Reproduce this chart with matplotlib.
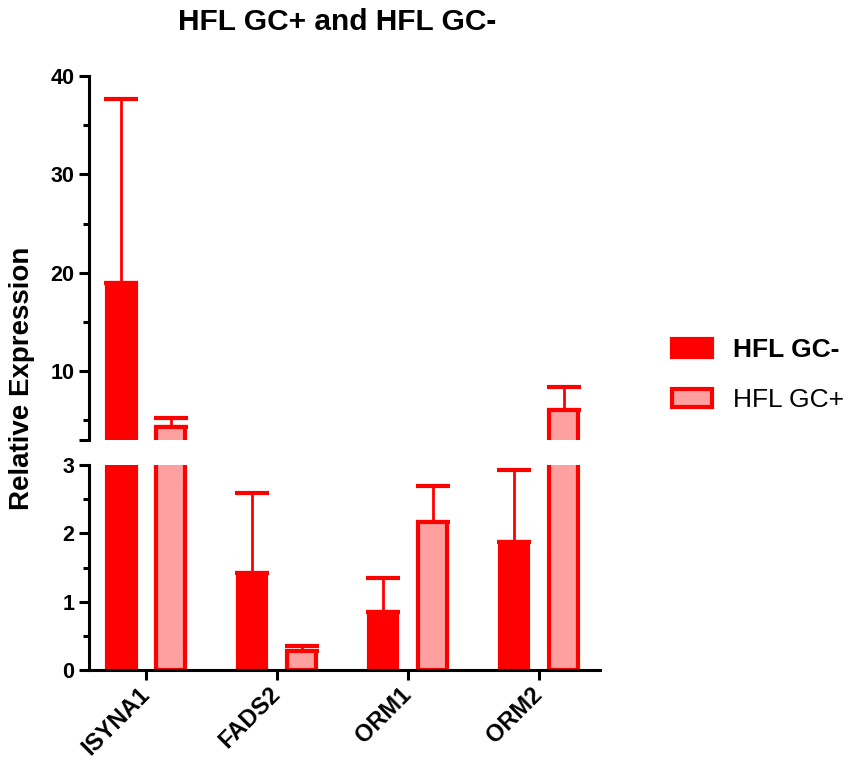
import numpy as np
import matplotlib.pyplot as plt
from matplotlib.patches import Patch
from matplotlib.transforms import ScaledTranslation

plt.rcParams['font.family'] = ['Liberation Sans', 'DejaVu Sans']

genes = ['ISYNA1', 'FADS2', 'ORM1', 'ORM2']
gc_minus = [19.0, 1.42, 0.85, 1.87]
gc_minus_err = [18.7, 1.17, 0.50, 1.06]
gc_plus = [4.3, 0.28, 2.17, 6.1]
gc_plus_err = [0.9, 0.07, 0.52, 2.3]

red = '#FF0000'
pink = '#FFA0A0'

fig = plt.figure(figsize=(8.49, 7.65), dpi=100)
ax_top = fig.add_axes([89/849, 1-440/765, 511/849, 364/765])
ax_bot = fig.add_axes([89/849, 1-670/765, 511/849, 205/765])
ax_top.set_ylim(3, 40)
ax_bot.set_ylim(0, 3)

x = np.arange(len(genes))
w = 0.22
off = 0.19

for ax in (ax_top, ax_bot):
    lo, hi = ax.get_ylim()
    for xs, vals, errs, face in ((x - off, gc_minus, gc_minus_err, red),
                                 (x + off, gc_plus, gc_plus_err, pink)):
        vals = np.array(vals)
        errs = np.array(errs)
        show = vals > lo
        ax.bar(xs[show], vals[show], w, color=face, edgecolor=red,
               linewidth=3, zorder=2)
        eshow = (vals + errs) > lo
        ax.errorbar(xs[eshow], vals[eshow],
                    yerr=[np.zeros(eshow.sum()), errs[eshow]], fmt='none',
                    ecolor=red, elinewidth=2, capsize=12, capthick=3, zorder=1)
    ax.set_xlim(-0.435, 3.466)
    for s in ('top', 'right'):
        ax.spines[s].set_visible(False)
    ax.spines['left'].set_linewidth(2.2)
    ax.spines['bottom'].set_linewidth(2.2)
    ax.tick_params(axis='y', which='major', length=7, width=2.2)
    ax.tick_params(axis='y', which='minor', length=4, width=2.2)

# upper segment
ax_top.spines['bottom'].set_visible(False)
ax_top.set_xticks([])
ax_top.set_yticks([3, 10, 20, 30, 40])
ax_top.set_yticklabels(['', '10', '20', '30', '40'], fontweight='bold', fontsize=15.5)
ax_top.set_yticks([5, 15, 25, 35], minor=True)

# lower segment
ax_bot.set_yticks([0, 1, 2, 3])
ax_bot.set_yticklabels(['0', '1', '2', '3'], fontweight='bold', fontsize=15.5)
ax_bot.set_yticks([0.5, 1.5, 2.5], minor=True)
ax_bot.set_xticks(x)
ax_bot.set_xticklabels(genes, rotation=45, ha='right', va='center',
                       rotation_mode='anchor', fontweight='bold', fontsize=17)
ax_bot.tick_params(axis='x', length=7, width=2.2, pad=8)
shift = ScaledTranslation(0, 0, fig.dpi_scale_trans)
for lab in ax_bot.get_xticklabels():
    lab.set_transform(lab.get_transform() + shift)

fig.text(337/849, 1-22/765, 'HFL GC+ and HFL GC-', ha='center', va='center',
         fontsize=21.5, fontweight='bold')
fig.text(22/849, 1-378/765, 'Relative Expression', ha='center', va='center',
         rotation=90, fontsize=20, fontweight='bold')

handles = [Patch(facecolor=red, edgecolor=red, linewidth=3),
           Patch(facecolor=pink, edgecolor=red, linewidth=3)]
leg = fig.legend(handles, ['HFL GC-', 'HFL GC+'], loc='upper left',
                 bbox_to_anchor=(672/849, 1-338/765), frameon=False,
                 fontsize=19, handlelength=1.5, handleheight=0.7,
                 handletextpad=0.8, labelspacing=1.0, borderpad=0, borderaxespad=0)
leg.get_texts()[0].set_fontweight('bold')

fig.savefig('out.png', dpi=100)
